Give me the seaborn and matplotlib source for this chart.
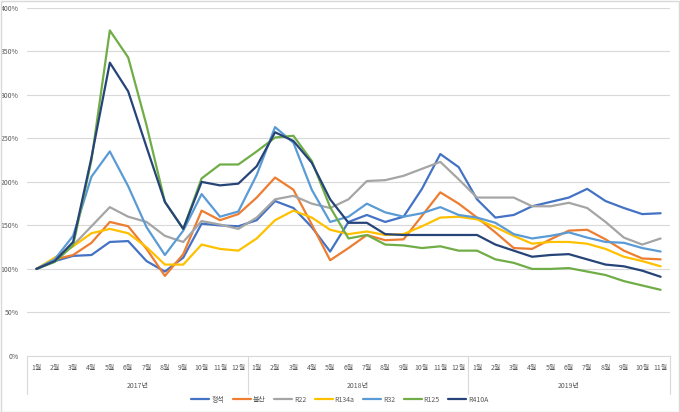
import matplotlib
matplotlib.use("Agg")
import matplotlib.pyplot as plt
import matplotlib.transforms as mtransforms
from matplotlib.patches import Rectangle
import seaborn as sns
import numpy as np
import pandas as pd

years = ["2017년", "2018년", "2019년"]
months_per_year = [12, 12, 11]
series_names = ["형석", "불산", "R22", "R134a", "R32", "R125", "R410A"]
colors = ["#4472C4", "#ED7D31", "#A5A5A5", "#FFC000", "#5B9BD5", "#70AD47", "#264478"]

fluorite = [100, 109, 115, 116, 131, 132, 109, 97, 113, 152, 150, 149,
            156, 178, 170, 148, 120, 154, 162, 154, 160, 192, 232, 217,
            180, 159, 162, 172, 177, 182, 192, 178, 170, 163, 164]
hf = [100, 111, 116, 130, 154, 149, 123, 92, 117, 167, 156, 163,
      182, 205, 191, 151, 110, 124, 139, 133, 134, 161, 188, 175,
      159, 142, 124, 123, 134, 144, 145, 134, 121, 112, 111]
r22 = [100, 111, 127, 149, 171, 160, 154, 138, 131, 155, 151, 146,
       159, 180, 184, 175, 170, 180, 201, 202, 207, 215, 223, 203,
       182, 182, 182, 172, 172, 176, 170, 154, 136, 128, 135]
r134a = [100, 113, 126, 141, 146, 141, 125, 105, 105, 128, 123, 121,
         135, 156, 167, 159, 145, 140, 143, 139, 140, 149, 159, 160,
         157, 148, 138, 129, 131, 131, 129, 123, 114, 109, 103]
r32 = [100, 111, 138, 206, 235, 195, 148, 116, 144, 186, 160, 166,
       208, 263, 245, 191, 154, 160, 175, 165, 160, 164, 171, 162,
       159, 153, 140, 135, 138, 142, 136, 131, 130, 124, 120]
r125 = [100, 108, 127, 225, 374, 343, 265, 177, 146, 204, 220, 220,
        235, 251, 253, 224, 171, 135, 139, 128, 127, 124, 126, 121,
        121, 111, 107, 100, 100, 101, 97, 93, 86, 81, 76]
r410a = [100, 109, 131, 228, 337, 304, 240, 177, 146, 200, 196, 198,
         218, 257, 247, 222, 180, 153, 153, 140, 139, 139, 139, 139,
         139, 128, 121, 114, 116, 117, 111, 105, 103, 98, 91]

all_values = [fluorite, hf, r22, r134a, r32, r125, r410a]

month_labels = [f"{m}월" for n in months_per_year for m in range(1, n + 1)]
idx = np.arange(len(month_labels))

frames = []
for name, vals in zip(series_names, all_values):
    frames.append(pd.DataFrame({"idx": idx, "value": vals, "series": name}))
df = pd.concat(frames, ignore_index=True)

sns.set_style("white")
plt.rcParams["font.family"] = ["Noto Sans CJK KR", "DejaVu Sans"]

fig = plt.figure(figsize=(6.8, 4.12), dpi=100)
ax = fig.add_axes([0.040, 0.136, 0.945, 0.845])

sns.lineplot(data=df, x="idx", y="value", hue="series", hue_order=series_names,
             palette=colors, linewidth=1.6, ax=ax, legend=False)

ax.set_xlim(-0.5, len(month_labels) - 0.5)
ax.set_ylim(0, 400)
ax.set_yticks(np.arange(0, 401, 50))
ax.set_yticklabels([f"{v}%" for v in range(0, 401, 50)], fontsize=5, color="#595959")
ax.set_xticks(idx)
ax.set_xticklabels(month_labels, fontsize=5, color="#595959")
ax.tick_params(axis="both", length=0, pad=6)
ax.grid(axis="y", color="#D9D9D9", linewidth=0.8)
ax.set_axisbelow(True)
for s in ["top", "right", "left"]:
    ax.spines[s].set_visible(False)
ax.spines["bottom"].set_color("#D9D9D9")
ax.spines["bottom"].set_linewidth(0.8)
ax.set_xlabel("")
ax.set_ylabel("")

# year group labels and separators
trans = mtransforms.blended_transform_factory(ax.transData, ax.transAxes)
start = 0
bounds = [-0.5]
for year, n in zip(years, months_per_year):
    center = start + (n - 1) / 2
    ax.text(center, -0.085, year, transform=trans, ha="center", va="center",
            fontsize=5, color="#595959")
    start += n
    bounds.append(start - 0.5)
for b in bounds:
    ax.plot([b, b], [0, -0.11], transform=trans, color="#D9D9D9",
            linewidth=0.8, clip_on=False)

handles = [plt.Line2D([], [], color=c, linewidth=1.6) for c in colors]
fig.legend(handles, series_names, loc="center", bbox_to_anchor=(0.5, 0.03),
           ncol=7, frameon=False, fontsize=5, handlelength=2.6,
           columnspacing=1.2, handletextpad=0.3, labelcolor="#595959")

fig.patches.append(Rectangle((0.001, 0.001), 0.997, 0.997, transform=fig.transFigure,
                             fill=False, edgecolor="#D9D9D9", linewidth=1))

fig.savefig("out.png", dpi=100)
